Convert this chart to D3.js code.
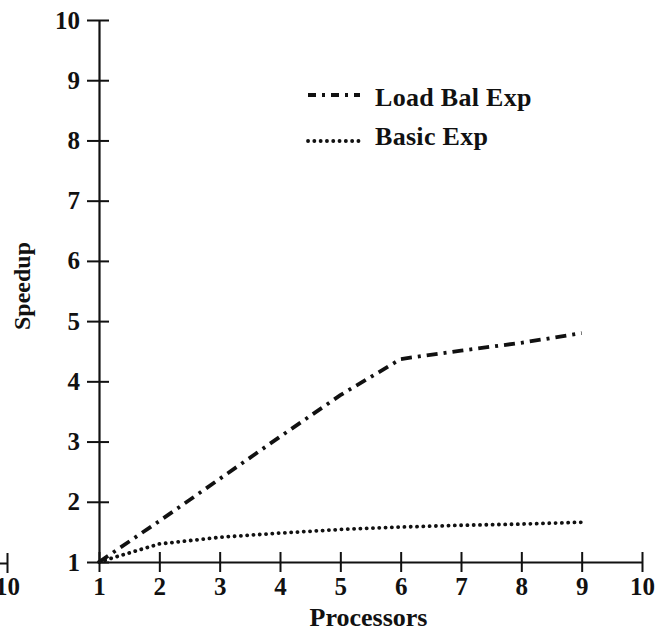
<!DOCTYPE html>
<html>
<head>
<meta charset="utf-8">
<script src="https://cdn.jsdelivr.net/npm/d3@7"></script>
<style>
  html, body { margin: 0; padding: 0; background: #fff; }
  svg { display: block; }
  text { font-family: "Liberation Serif", "DejaVu Serif", serif; fill: #111; font-weight: bold; }
</style>
</head>
<body>
<svg id="chart" width="663" height="633"></svg>
<script>
// ---- data ----
const processors = [1, 2, 3, 4, 5, 6, 7, 8, 9];
const loadBalExp = [1, 1.68, 2.38, 3.08, 3.77, 4.37, 4.51, 4.64, 4.8];
const basicExp   = [1, 1.3, 1.41, 1.48, 1.54, 1.58, 1.61, 1.63, 1.66];
const xTickValues = [1, 2, 3, 4, 5, 6, 7, 8, 9, 10];
const yTickValues = [1, 2, 3, 4, 5, 6, 7, 8, 9, 10];
const seriesNames = ["Load Bal Exp", "Basic Exp"];
const xTitle = "Processors";
const yTitle = "Speedup";
const strayTickValues = [10]; // fragment of a neighbouring chart at the left edge

// ---- layout ----
const svg = d3.select("#chart");
const x = d3.scaleLinear().domain([1, 10]).range([99, 642]);
const y = d3.scaleLinear().domain([1, 10]).range([562, 20]);
const ink = "#111";

// x axis
const gx = svg.append("g").attr("transform", `translate(0,${y(1)})`)
  .call(d3.axisBottom(x).tickValues(xTickValues).tickFormat(d3.format("d"))
    .tickSizeInner(10).tickSizeOuter(0).tickPadding(5));
gx.selectAll(".tick line").attr("y1", -10);

// y axis
const gy = svg.append("g").attr("transform", `translate(${x(1)},0)`)
  .call(d3.axisLeft(y).tickValues(yTickValues).tickFormat(d3.format("d"))
    .tickSizeInner(12).tickSizeOuter(0).tickPadding(7));
gy.selectAll(".tick line").attr("x1", 10);

// stray fragment of neighbouring chart
const xStray = d3.scaleLinear().domain([1, 10]).range([7 - 9 * 60.3, 7]);
const gs = svg.append("g").attr("transform", `translate(0,${y(1) + 1})`)
  .call(d3.axisBottom(xStray).tickValues(strayTickValues).tickFormat(d3.format("d"))
    .tickSizeInner(10).tickSizeOuter(0).tickPadding(4));
gs.selectAll(".tick line").attr("y1", -10);

[gx, gy, gs].forEach(g => {
  g.select(".domain").attr("stroke", ink).attr("stroke-width", 2.2);
  g.selectAll(".tick line").attr("stroke", ink).attr("stroke-width", 2);
  g.selectAll(".tick text").attr("fill", ink)
    .style("font-family", "'Liberation Serif', serif")
    .style("font-weight", "bold")
    .style("font-size", "25px");
});

// axis titles
svg.append("text")
  .attr("x", (x(1) + x(10)) / 2 - 2).attr("y", 626)
  .attr("text-anchor", "middle")
  .style("font-size", "26px")
  .text(xTitle);

svg.append("text")
  .attr("transform", `translate(30,${(y(1) + y(10)) / 2 - 5}) rotate(-90)`)
  .attr("text-anchor", "middle")
  .style("font-size", "24px")
  .text(yTitle);

// series
const line = d3.line().x(d => x(d[0])).y(d => y(d[1]));
const loadData = processors.map((p, i) => [p, loadBalExp[i]]);
const basicData = processors.map((p, i) => [p, basicExp[i]]);

const styles = [
  { dash: "11,6,3,6", cap: "butt", width: 3.8 },
  { dash: "0.1,6.2", cap: "round", width: 3.8 }
];

svg.append("path").datum(basicData)
  .attr("d", line).attr("fill", "none").attr("stroke", ink)
  .attr("stroke-width", styles[1].width).attr("stroke-dasharray", styles[1].dash)
  .attr("stroke-linecap", styles[1].cap);

svg.append("path").datum(loadData)
  .attr("d", line).attr("fill", "none").attr("stroke", ink)
  .attr("stroke-width", styles[0].width).attr("stroke-dasharray", styles[0].dash)
  .attr("stroke-linecap", styles[0].cap);

// legend
const legend = [
  { name: seriesNames[0], lineY: 95, textY: 106, s: styles[0], dash: "8,6,3,6" },
  { name: seriesNames[1], lineY: 141, textY: 145, s: styles[1], dash: styles[1].dash }
];
legend.forEach(l => {
  svg.append("line")
    .attr("x1", 308).attr("x2", 360).attr("y1", l.lineY).attr("y2", l.lineY)
    .attr("stroke", ink).attr("stroke-width", l.s.width)
    .attr("stroke-dasharray", l.dash).attr("stroke-linecap", l.s.cap);
  svg.append("text")
    .attr("x", 375).attr("y", l.textY)
    .style("font-size", "26px").style("letter-spacing", "0.3px")
    .text(l.name);
});
</script>
</body>
</html>
